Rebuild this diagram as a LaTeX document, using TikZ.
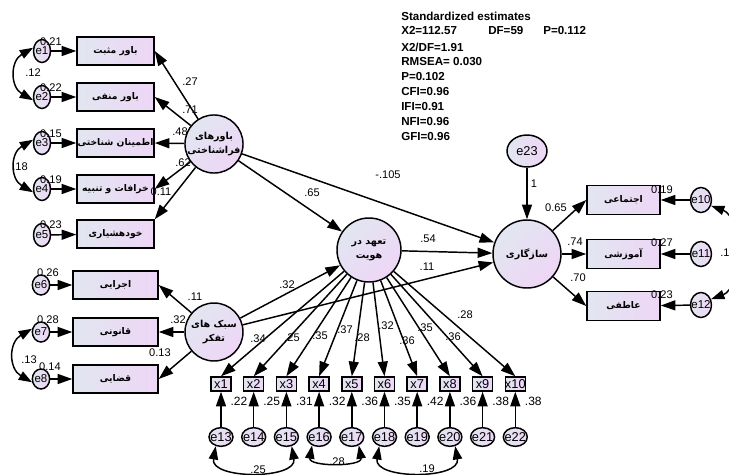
\documentclass[tikz,border=0pt]{standalone}
\usepackage{fontspec}
\setmainfont{Liberation Sans}
\newfontfamily\fa[Script=Arabic]{DejaVu Sans}
\TeXXeTstate=1
\usetikzlibrary{arrows.meta,shapes.geometric}
\definecolor{shL}{RGB}{226,230,240}
\definecolor{shR}{RGB}{238,214,246}
\newcommand{\rtl}[1]{\beginR #1\endR}
\newcommand{\numfont}{\fontsize{8.3}{10}\selectfont}
\begin{document}
\begin{tikzpicture}[x=0.75pt,y=-0.75pt,
  stat/.style={anchor=west, inner sep=0pt, font=\bfseries\fontsize{8.7}{10}\selectfont},
  lab/.style={inner sep=0pt, font=\numfont},
  box/.style={draw, line width=1.1pt, left color=shL, right color=shR, minimum width=57.75pt, minimum height=21pt, inner sep=0pt, font=\fa\bfseries\fontsize{6.9}{8.5}\selectfont},
  boxw/.style={box, minimum width=63.75pt},
  boxr/.style={box, minimum width=54.75pt, minimum height=21.75pt},
  lat/.style={circle, draw, line width=1.1pt, left color=shL, right color=shR, shading angle=45, inner sep=0pt, align=center, font=\fa\bfseries\fontsize{7.2}{10.5}\selectfont},
  err/.style={ellipse, draw, line width=1.1pt, left color=shL, right color=shR, inner sep=0pt, minimum width=12.75pt, minimum height=17.25pt},
  errs/.style={err, minimum width=13pt, minimum height=15pt},
  errr/.style={err, minimum width=15.75pt, minimum height=18.75pt},
  errb/.style={err, minimum width=18pt, minimum height=14pt},
  elab/.style={inner sep=0pt, font=\fontsize{8.6}{10}\selectfont},
  elabb/.style={inner sep=0pt, font=\fontsize{9.6}{10}\selectfont},
  xbox/.style={draw, line width=1.1pt, left color=shL, right color=shR, minimum width=15pt, minimum height=10.5pt, inner sep=0pt},
  arr/.style={line width=1.1pt, -{Triangle[length=11pt,width=7.5pt]}},
  cov/.style={line width=1.1pt, {Triangle[length=10pt,width=7pt]}-{Triangle[length=10pt,width=7pt]}}
]
\fill[white] (0,0) rectangle (729,475);
\useasboundingbox (0,0) rectangle (729,475);

% fit statistics
\node[stat] (s0) at (401,16) {Standardized estimates};
\node[stat] (s1) at (401,31) {X2=112.57};
\node[stat] (s1b) at (488,31) {DF=59};
\node[stat] (s1c) at (543,31) {P=0.112};
\node[stat] (s2) at (401,47) {X2/DF=1.91};
\node[stat] (s3) at (401,62) {RMSEA= 0.030};
\node[stat] (s4) at (401,77) {P=0.102};
\node[stat] (s5) at (401,92) {CFI=0.96};
\node[stat] (s6) at (401,107) {IFI=0.91};
\node[stat] (s7) at (401,122) {NFI=0.96};
\node[stat] (s8) at (401,137) {GFI=0.96};

% left top group
\node[box] (b1) at (115.5,51) {\rtl{باور مثبت}};
\node[box] (b2) at (115.5,97) {\rtl{باور منفی}};
\node[box] (b3) at (115.5,143) {\rtl{اطمینان شناختی}};
\node[box] (b4) at (115.5,189) {\rtl{خرافات و تنبیه}};
\node[box] (b5) at (115.5,234) {\rtl{خودهشیاری}};
\node[err, label={[elab]center:e1}] (e1) at (42,51) {};
\node[err, label={[elab]center:e2}] (e2) at (42,97) {};
\node[err, label={[elab]center:e3}] (e3) at (42,143) {};
\node[err, label={[elab]center:e4}] (e4) at (42,189) {};
\node[err, label={[elab]center:e5}] (e5) at (42,235) {};
\node[lat, minimum size=43.5pt] (c1) at (214,144) {\rtl{باورهای}\\\rtl{فراشناختی}};

% left bottom group
\node[boxw] (d1) at (115.5,285) {\rtl{اجرایی}};
\node[boxw] (d2) at (115.5,332) {\rtl{قانونی}};
\node[boxw] (d3) at (115.5,379) {\rtl{قضایی}};
\node[errs, label={[elab]center:e6}] (e6) at (41,285) {};
\node[errs, label={[elab]center:e7}] (e7) at (41,332) {};
\node[errs, label={[elab]center:e8}] (e8) at (41,379) {};
\node[lat, minimum size=43.5pt] (c2) at (214,332) {\rtl{سبک های}\\\rtl{تفکر}};

% middle and right
\node[lat, minimum size=48pt] (c3) at (369,250) {\rtl{تعهد در}\\\rtl{هویت}};
\node[lat, minimum size=51pt] (c4) at (527,254) {\rtl{سازگاری}};
\node[err, minimum width=30pt, minimum height=24pt, label={[elabb]center:e23}] (e23) at (527,151) {};
\node[boxr] (r1) at (623.5,200) {\rtl{اجتماعی}};
\node[boxr] (r2) at (623.5,254) {\rtl{آموزشی}};
\node[boxr] (r3) at (623.5,306) {\rtl{عاطفی}};
\node[errr, label={[elab]center:e10}] (e10) at (701,200) {};
\node[errr, label={[elab]center:e11}] (e11) at (701,254) {};
\node[errr, label={[elab]center:e12}] (e12) at (701,305) {};

% indicators x1..x10 and errors e13..e22
\foreach \i/\xx/\ev in {1/221/13,2/253.7/14,3/286.4/15,4/319.1/16,5/351.8/17,6/384.5/18,7/417.2/19,8/449.9/20,9/482.6/21,10/515.3/22}{
  \node[xbox, label={[elabb]center:x\i}] (x\i) at (\xx,384) {};
  \node[errb, label={[elabb]center:e\ev}] (e\ev) at (\xx,437) {};
}

% arrows: errors to indicators
\foreach \a/\b in {e1/b1,e2/b2,e3/b3,e4/b4,e5/b5,e6/d1,e7/d2,e8/d3,e10/r1,e11/r2,e12/r3}{
  \draw[arr] (\a) -- (\b);
}
\foreach \i/\ev in {1/13,2/14,3/15,4/16,5/17,6/18,7/19,8/20,9/21,10/22}{
  \draw[arr] (e\ev) -- (x\i);
  \draw[arr] (c3) -- (x\i.north);
}
% loadings
\draw[arr] (c1) -- (b1.east);
\draw[arr] (c1) -- (b2.east);
\draw[arr] (c1) -- (b3.east);
\draw[arr] (c1) -- (b4.east);
\draw[arr] (c1) -- (b5.north east);
\draw[arr] (c2) -- (d1.east);
\draw[arr] (c2) -- (d2.east);
\draw[arr] (c2) -- (d3.east);
\draw[arr] (c4) -- (r1.west);
\draw[arr] (c4) -- (r2.west);
\draw[arr] (c4) -- (r3.west);
% structural paths
\draw[arr] (c1) -- (c3);
\draw[arr] (c1) -- (c4);
\draw[arr] (c2) -- (c3);
\draw[arr] (c2) -- (c4);
\draw[arr] (c3) -- (c4);
\draw[arr] (e23) -- (c4);

% covariances
\draw[cov] (e1.160) to[out=210,in=150,looseness=1.3] (e2.200);
\draw[cov] (e3.160) to[out=210,in=150,looseness=1.3] (e4.200);
\draw[cov] (e7.160) to[out=210,in=150,looseness=1.3] (e8.200);
\draw[cov] (e10.330) to[out=-20,in=20,looseness=0.9] (e12.30);
\draw[cov] (e13.240) to[out=-100,in=-80,looseness=1.15] (e15.300);
\draw[cov] (e16.230) to[out=-100,in=-80,looseness=1.2] (e17.310);
\draw[cov] (e18.240) to[out=-100,in=-80,looseness=1.15] (e20.300);

% labels: left top
\node[lab] (l1) at (51,42) {0.21};
\node[lab] (l2) at (51,88) {0.22};
\node[lab] (l3) at (51,134) {0.15};
\node[lab] (l4) at (51,180) {0.19};
\node[lab] (l5) at (51,225) {0.23};
\node[lab] (l6) at (33,73) {.12};
\node[lab] (l7) at (20,167) {.18};
\node[lab] (l8) at (190,82) {.27};
\node[lab] (l9) at (190,110) {.71};
\node[lab] (l10) at (180,132) {.48};
\node[lab] (l11) at (183,163) {.62};
\node[lab] (l12) at (161,192) {0.11};
% labels: left bottom
\node[lab] (l13) at (48,273) {0.26};
\node[lab] (l14) at (48,320) {0.28};
\node[lab] (l15) at (50,367) {0.14};
\node[lab] (l16) at (29,360) {.13};
\node[lab] (l17) at (195,297) {.11};
\node[lab] (l18) at (178,320) {.32};
\node[lab] (l19) at (160,353) {0.13};
% labels: structural
\node[lab] (l20) at (312,193) {.65};
\node[lab] (l21) at (388,175) {-.105};
\node[lab] (l22) at (428,239) {.54};
\node[lab] (l23) at (427,267) {.11};
\node[lab] (l24) at (287,285) {.32};
\node[lab] (l25) at (534,184) {1};
% labels: right
\node[lab] (l26) at (556,208) {0.65};
\node[lab] (l27) at (575,242) {.74};
\node[lab] (l28) at (578,278) {.70};
\node[lab] (l29) at (662,190) {0.19};
\node[lab] (l30) at (662,243) {0.27};
\node[lab] (l31) at (662,295) {0.23};
\node[lab, anchor=west] (l32) at (720,253) {.1};
% labels: loadings on x
\node[lab] (m1) at (258,339) {.34};
\node[lab] (m2) at (292,338) {.25};
\node[lab] (m3) at (320,336) {.35};
\node[lab] (m4) at (345,330) {.37};
\node[lab] (m5) at (362,338) {.28};
\node[lab] (m6) at (386,326) {.32};
\node[lab] (m7) at (407,341) {.36};
\node[lab] (m8) at (425,328) {.35};
\node[lab] (m9) at (453,337) {.36};
\node[lab] (m10) at (465,315) {.28};
% labels: error variances of x
\foreach \i/\xx/\v in {1/221/.22,2/253.7/.25,3/286.4/.31,4/319.1/.32,5/351.8/.36,6/384.5/.35,7/417.2/.42,8/449.9/.36,9/482.6/.38,10/515.3/.38}{
  \node[lab, font=\fontsize{9}{10}\selectfont] (v\i) at (\xx+18,401) {\v};
}
\node[lab] (n1) at (258,470) {.25};
\node[lab] (n2) at (337,462) {.28};
\node[lab] (n3) at (427,469) {.19};
\end{tikzpicture}
\end{document}
